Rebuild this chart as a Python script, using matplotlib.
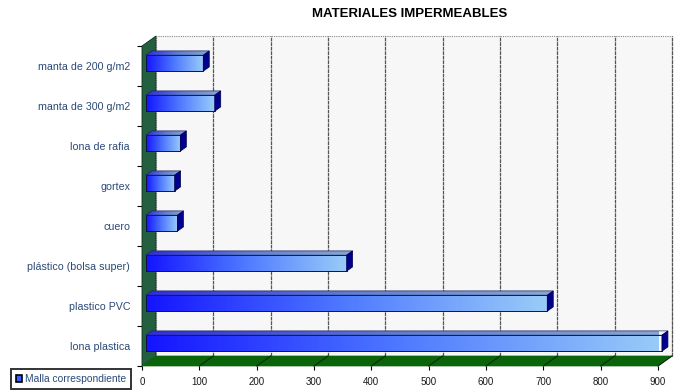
import numpy as np
import matplotlib
matplotlib.use("Agg")
import matplotlib.pyplot as plt
from matplotlib.patches import Polygon, Rectangle, Patch
from matplotlib.colors import LinearSegmentedColormap

plt.rcParams['font.family'] = ['Liberation Sans', 'DejaVu Sans']

# Data (bottom to top)
categories = ["lona plastica", "plastico PVC", "plástico (bolsa super)", "cuero",
              "gortex", "lona de rafia", "manta de 300 g/m2", "manta de 200 g/m2"]
values = [900, 700, 350, 55, 50, 60, 120, 100]
x_ticks = [0, 100, 200, 300, 400, 500, 600, 700, 800, 900]
title = "MATERIALES IMPERMEABLES"
series_name = "Malla correspondiente"

XMAX = 900
N = len(categories)

# 3-D depth of the plot box, in data units
DX = 24.4      # horizontal depth (value units)
DY = 0.25      # vertical depth (category units)
BAR_FRONT = 0.28   # bar front face position as fraction of depth
BAR_DEPTH = 0.43   # bar thickness as fraction of depth
BAR_H = 0.4

label_color = '#2B4A78'

fig = plt.figure(figsize=(6.84, 3.90), dpi=100)
ax = fig.add_axes([142 / 684, 24 / 390, 516 / 684, 320 / 390])
ax.set_xlim(0, XMAX)
ax.set_ylim(0, N)
for s in ax.spines.values():
    s.set_visible(False)
ax.patch.set_visible(False)

# back wall
back = Rectangle((DX, DY), XMAX, N, facecolor='#F7F7F7', edgecolor='#8a8a8a',
                 linestyle=(0, (1, 1)), linewidth=0.8, clip_on=False, zorder=1)
ax.add_patch(back)
for xv in x_ticks[1:]:
    ax.plot([xv + DX, xv + DX], [DY, N + DY], color='#555555', lw=0.9,
            linestyle=(0, (3, 0.6)), clip_on=False, zorder=1.5)

# left wall
left_wall = Polygon([(0, 0), (0, N), (DX, N + DY), (DX, DY)], closed=True,
                    facecolor='#24603F', edgecolor='#10301f', lw=0.6,
                    clip_on=False, zorder=2)
ax.add_patch(left_wall)

# floor
floor = Polygon([(0, 0), (XMAX, 0), (XMAX + DX, DY), (DX, DY)], closed=True,
                facecolor='#0A640A', edgecolor='#0A640A', lw=0.5,
                clip_on=False, zorder=2)
ax.add_patch(floor)
for xv in x_ticks[1:]:
    ax.plot([xv, xv + DX], [0, DY], color='#0a2a0a', lw=0.8,
            clip_on=False, zorder=2.1)

# bars
front_cmap = LinearSegmentedColormap.from_list('front', ['#1414FF', '#4F7BFF', '#9ACCF8'])
top_cmap = LinearSegmentedColormap.from_list('top', ['#2E2ED8', '#5E7FD0', '#86A8D4'])
grad = np.linspace(0, 1, 256).reshape(1, -1)

ox, oy = BAR_FRONT * DX, BAR_FRONT * DY
bx, by = BAR_DEPTH * DX, BAR_DEPTH * DY
for i, v in enumerate(values):
    y0 = i + 0.5 - BAR_H / 2 + oy
    y1 = y0 + BAR_H
    x0, x1 = ox, ox + v

    front = Polygon([(x0, y0), (x1, y0), (x1, y1), (x0, y1)], closed=True,
                    facecolor='none', edgecolor='#101040', lw=0.7,
                    clip_on=False, zorder=4)
    im = ax.imshow(grad, cmap=front_cmap, aspect='auto', extent=[x0, x1, y0, y1],
                   interpolation='bilinear', zorder=3)
    ax.add_patch(front)
    im.set_clip_path(front)
    im.set_clip_box(None)

    top = Polygon([(x0, y1), (x1, y1), (x1 + bx, y1 + by), (x0 + bx, y1 + by)],
                  closed=True, facecolor='none', edgecolor='#202060', lw=0.5,
                  clip_on=False, zorder=4)
    imt = ax.imshow(grad, cmap=top_cmap, aspect='auto',
                    extent=[x0, x1 + bx, y1, y1 + by],
                    interpolation='bilinear', zorder=3)
    ax.add_patch(top)
    imt.set_clip_path(top)
    imt.set_clip_box(None)

    side = Polygon([(x1, y0), (x1, y1), (x1 + bx, y1 + by), (x1 + bx, y0 + by)],
                   closed=True, facecolor='#00008C', edgecolor='#000050', lw=0.5,
                   clip_on=False, zorder=4)
    ax.add_patch(side)

ax.set_xlim(0, XMAX)
ax.set_ylim(0, N)

# axes ticks
ax.set_xticks(x_ticks)
ax.set_xticklabels([str(t) for t in x_ticks])
ax.tick_params(axis='x', direction='out', length=3, width=0.8, color='black',
               pad=5, labelsize=7.0, labelcolor='#1a1a1a')
ax.set_yticks(range(N + 1))
ax.set_yticklabels([])
ax.set_yticks(np.arange(N) + 0.5, minor=True)
ax.set_yticklabels(categories, minor=True)
ax.tick_params(axis='y', which='major', direction='out', length=3.5, width=0.8,
               color='black')
ax.tick_params(axis='y', which='minor', length=0, pad=8.6, labelsize=7.7,
               labelcolor=label_color)

fig.text(410 / 684, 1 - 14 / 390, title, ha='center', va='center',
         fontsize=9.5, fontweight='bold', color='black')

leg = fig.legend(handles=[Patch(facecolor='#3A60FF', edgecolor='black', lw=1.2)],
                 labels=[series_name], loc='lower left',
                 bbox_to_anchor=(11 / 684, 1 / 390), fontsize=7.4,
                 labelcolor=label_color, fancybox=False, frameon=True,
                 handlelength=0.6, handleheight=0.6, handletextpad=0.25,
                 borderpad=0.5, borderaxespad=0)
leg.get_frame().set_edgecolor('black')
leg.get_frame().set_linewidth(1.4)

fig.savefig('out.png', dpi=100, facecolor='white')
